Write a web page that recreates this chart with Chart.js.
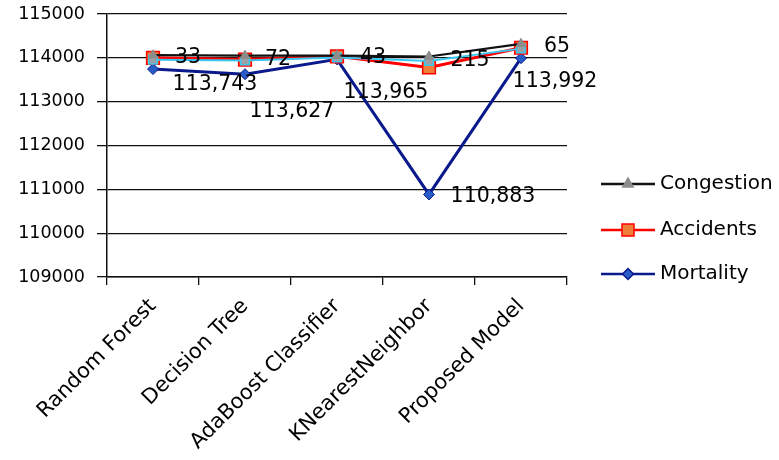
<!DOCTYPE html>
<html>
<head>
<meta charset="utf-8">
<script src="https://cdn.jsdelivr.net/npm/chart.js@4/dist/chart.umd.min.js"></script>
<style>
  html, body { margin: 0; padding: 0; background: #fff; }
  #wrap { width: 779px; height: 460px; }
</style>
</head>
<body>
<div id="wrap"><canvas id="c" width="779" height="460"></canvas></div>
<script>
// Model comparison: predicted counts per model
const categories = ['Random Forest', 'Decision Tree', 'AdaBoost Classifier', 'KNearestNeighbor', 'Proposed Model'];
const congestion = [114060, 114050, 114050, 114030, 114320];
const accidents  = [114000, 113960, 114035, 113780, 114230];
const series4    = [113955, 113940, 114005, 113930, 114210];
const mortality  = [113743, 113627, 113965, 110883, 113992];
const congestionLabels = ['33', '72', '43', '215', '65'];
const yMin = 109000, yMax = 115000, yStep = 1000;

const FONT = 'DejaVu Sans';

// value labels drawn next to the points
const valueLabels = {
  id: 'valueLabels',
  afterDatasetsDraw(chart) {
    const ctx = chart.ctx;
    ctx.save();
    ctx.fillStyle = '#000';
    ctx.textAlign = 'center';
    ctx.textBaseline = 'middle';
    ctx.font = '20.5px "' + FONT + '"';
    const cMeta = chart.getDatasetMeta(0);
    const cOff = [[35, 2], [33, 4], [36, 2], [41, 4], [36, 3]];
    cMeta.data.forEach((p, i) => {
      ctx.fillText(congestionLabels[i], p.x + cOff[i][0], p.y + cOff[i][1]);
    });
    const mMeta = chart.getDatasetMeta(3);
    const mOff = [[62, 16], [47, 37], [49, 33], [64, 2], [34, 23]];
    mMeta.data.forEach((p, i) => {
      ctx.fillText(mortality[i].toLocaleString('en-US'), p.x + mOff[i][0], p.y + mOff[i][1]);
    });
    ctx.restore();
  }
};

// legend on the right: line sample with marker, then series name
const sideLegend = {
  id: 'sideLegend',
  afterDraw(chart) {
    const ctx = chart.ctx;
    const items = [
      { text: 'Congestion', y: 184, line: '#111', lw: 2.5, style: 'triangle', r: 6, fill: '#8c8c8c', border: '#8c8c8c' },
      { text: 'Accidents',  y: 230, line: '#ff0000', lw: 2.5, style: 'rect', r: 8.5, fill: '#ee7d3a', border: '#ff0000' },
      { text: 'Mortality',  y: 274, line: '#0a1a8c', lw: 2.5, style: 'rectRot', r: 5.5, fill: '#2a5cc8', border: '#0a1a8c' }
    ];
    ctx.save();
    items.forEach(it => {
      ctx.strokeStyle = it.line;
      ctx.lineWidth = it.lw;
      ctx.beginPath();
      ctx.moveTo(601, it.y);
      ctx.lineTo(655, it.y);
      ctx.stroke();
      ctx.fillStyle = it.fill;
      ctx.strokeStyle = it.border;
      ctx.lineWidth = 1.5;
      Chart.helpers.drawPoint(ctx, { pointStyle: it.style, radius: it.r, rotation: 0, borderWidth: 1.5 }, 628, it.y);
      ctx.fillStyle = '#000';
      ctx.font = '20px "' + FONT + '"';
      ctx.textAlign = 'left';
      ctx.textBaseline = 'middle';
      ctx.fillText(it.text, 660, it.y);
    });
    ctx.restore();
  }
};

new Chart(document.getElementById('c'), {
  type: 'line',
  data: {
    labels: categories,
    datasets: [
      {
        label: 'Congestion', data: congestion, order: 0,
        borderColor: '#111', borderWidth: 2.2,
        pointStyle: 'triangle', pointRadius: 5.5,
        pointBackgroundColor: '#8c8c8c', pointBorderColor: '#8c8c8c', pointBorderWidth: 1
      },
      {
        label: 'Accidents', data: accidents, order: 2,
        borderColor: '#ff0000', borderWidth: 3,
        pointStyle: 'rect', pointRadius: 9,
        pointBackgroundColor: '#ee7d3a', pointBorderColor: '#ff0000', pointBorderWidth: 1.5
      },
      {
        label: 'series4', data: series4, order: 1,
        borderColor: '#38c8f0', borderWidth: 2,
        pointStyle: 'rect', pointRadius: 6,
        pointBackgroundColor: '#9aa0a6', pointBorderColor: '#38c8f0', pointBorderWidth: 1.5
      },
      {
        label: 'Mortality', data: mortality, order: 3,
        borderColor: '#0a1a8c', borderWidth: 3,
        pointStyle: 'rectRot', pointRadius: 5.5,
        pointBackgroundColor: '#2a5cc8', pointBorderColor: '#0a1a8c', pointBorderWidth: 1
      }
    ]
  },
  options: {
    responsive: false,
    animation: false,
    events: [],
    layout: { padding: { top: 14, right: 212, left: 0, bottom: 0 } },
    plugins: { legend: { display: false }, tooltip: { enabled: false } },
    elements: { line: { tension: 0 } },
    scales: {
      x: {
        offset: true,
        grid: { offset: true, drawOnChartArea: false, drawTicks: true, tickLength: 8, color: '#111', lineWidth: 1.3 },
        border: { display: true, color: '#111', width: 1.5 },
        ticks: {
          minRotation: 45, maxRotation: 45, autoSkip: false,
          color: '#000', font: { family: FONT, size: 21 }, padding: 9
        },
        afterFit(scale) { scale.height = 183; scale.paddingLeft = 0; scale.paddingRight = 0; }
      },
      y: {
        min: yMin, max: yMax,
        grid: { color: '#111', lineWidth: 1.3, tickLength: 10 },
        border: { display: true, color: '#111', width: 1.5 },
        ticks: {
          stepSize: yStep, color: '#000', padding: 12,
          font: { family: FONT, size: 17.5 },
          callback: v => String(v)
        },
        afterFit(scale) { scale.width = 107; scale.paddingTop = 0; scale.paddingBottom = 0; }
      }
    }
  },
  plugins: [valueLabels, sideLegend]
});
</script>
</body>
</html>
